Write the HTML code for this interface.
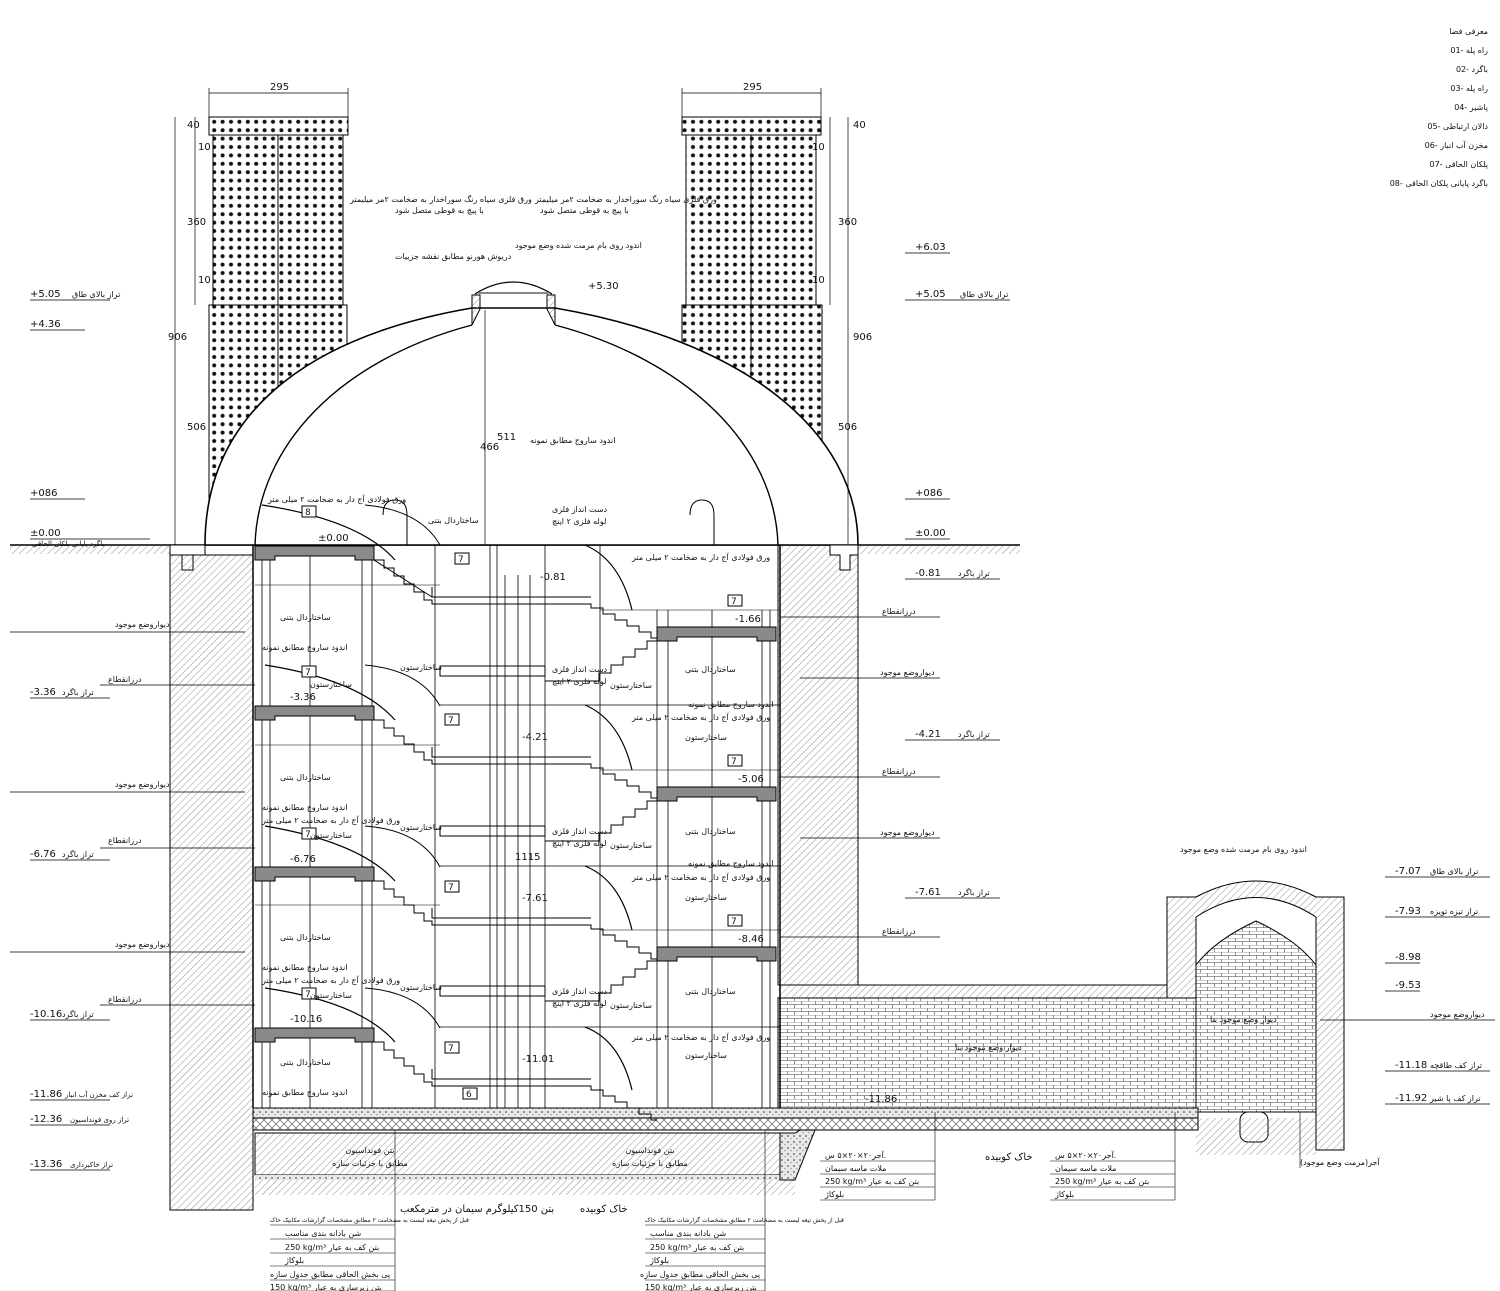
<!DOCTYPE html>
<html><head><meta charset="utf-8"><style>
html,body{margin:0;padding:0;background:#fff}
svg{display:block}
text{font-family:"DejaVu Sans","Liberation Sans",sans-serif;fill:#111}
.t{font-size:8px}
.e{font-size:10px;font-family:"Liberation Sans",sans-serif}
</style></head><body>
<svg width="1500" height="1291" viewBox="0 0 1500 1291" xmlns="http://www.w3.org/2000/svg">
<defs>
<pattern id="dots" width="8.4" height="8.4" patternUnits="userSpaceOnUse"><circle cx="4.2" cy="4.2" r="2" fill="#111"/></pattern>
<pattern id="hatch" width="5" height="5" patternUnits="userSpaceOnUse" patternTransform="rotate(45)"><line x1="0" y1="0" x2="0" y2="5" stroke="#777" stroke-width="0.8"/></pattern>
<pattern id="brick" width="14" height="7" patternUnits="userSpaceOnUse"><rect width="14" height="7" fill="#fff"/><path d="M0 0H14M0 3.5H14M3.5 0V3.5M10.5 3.5V7" stroke="#777" stroke-width="0.8" fill="none"/></pattern>
<pattern id="grav" width="6" height="6" patternUnits="userSpaceOnUse"><rect width="6" height="6" fill="#e8e8e8"/><circle cx="2" cy="2" r="1" fill="#777"/><circle cx="5" cy="4.5" r="0.8" fill="#999"/></pattern>
<pattern id="cross" width="8" height="8" patternUnits="userSpaceOnUse"><path d="M0 0L8 8M8 0L0 8" stroke="#666" stroke-width="0.7"/></pattern>
</defs>

<line x1="10" y1="545" x2="1020" y2="545" stroke="#000" stroke-width="1.5"/>
<rect x="10" y="546" width="160" height="8" fill="url(#hatch)"/>
<rect x="858" y="546" width="162" height="8" fill="url(#hatch)"/>

<g stroke="#000" stroke-width="1">
<rect x="209" y="117" width="139" height="18" fill="url(#dots)"/>
<rect x="213" y="135" width="130" height="170" fill="url(#dots)"/>
<rect x="209" y="305" width="138" height="240" fill="url(#dots)"/>
<line x1="278" y1="135" x2="278" y2="545"/>
<rect x="682" y="117" width="139" height="18" fill="url(#dots)"/>
<rect x="686" y="135" width="130" height="170" fill="url(#dots)"/>
<rect x="682" y="305" width="140" height="240" fill="url(#dots)"/>
<line x1="751" y1="135" x2="751" y2="545"/>
</g>

<!-- dome -->
<path d="M205,545 C205,430 285,340 472,308 L555,308 C742,340 858,430 858,545 Z" fill="#fff" stroke="#000" stroke-width="1.6"/>
<path d="M255,545 C258,445 340,360 472,325 M778,545 C775,445 687,360 555,325" fill="none" stroke="#000" stroke-width="1.4"/>
<path d="M472,325 L472,295 L480,295 L480,309 Z M555,325 L555,295 L547,295 L547,309 Z" fill="url(#hatch)" stroke="#000"/>
<path d="M475,294 Q513,270 552,294" fill="none" stroke="#000" stroke-width="1.3"/>
<line x1="478" y1="293" x2="549" y2="293" stroke="#888" stroke-width="2"/>

<path d="M170,545 H205 V555 H193 V570 H182 V555 H170 Z" fill="#fff" stroke="#000"/>
<rect x="170" y="555" width="83" height="655" fill="url(#hatch)" stroke="#000"/>
<rect x="778" y="545" width="80" height="440" fill="url(#hatch)" stroke="#000"/>
<path d="M858,545 H830 V555 H840 V570 H850 V555 H858Z" fill="#fff" stroke="#000"/>
<rect x="778" y="985" width="389" height="13" fill="url(#hatch)"/>
<path d="M858,545 V985 H1167 V897" fill="none" stroke="#000"/>
<path d="M1167,897 H1196 Q1256,865 1316,897 H1344 V1150 H1316 V1112 H1196 V998 H1167Z" fill="url(#hatch)" stroke="#000"/>
<path d="M1196,998 V917 Q1256,878 1316,917 V1112 H1196Z" fill="#fff" stroke="#000"/>
<path d="M1196,965 Q1215,940 1256,921 Q1297,940 1316,965 V1112 H1196Z" fill="url(#brick)" stroke="#000"/>
<rect x="778" y="998" width="418" height="114" fill="url(#brick)" stroke="#000"/>
<rect x="1240" y="1112" width="28" height="30" rx="8" fill="#fff" stroke="#000"/>
<rect x="1196" y="1118" width="120" height="25" fill="url(#hatch)"/>

<rect x="253" y="1108" width="945" height="10" fill="url(#grav)" stroke="#000"/>
<rect x="253" y="1118" width="945" height="12" fill="url(#cross)" stroke="#000"/>
<rect x="255" y="1133" width="525" height="42" fill="url(#hatch)" stroke="#000"/>
<rect x="255" y="1175" width="540" height="5" fill="url(#grav)"/>
<rect x="255" y="1180" width="540" height="15" fill="url(#hatch)"/>
<path d="M780,1133 L795,1133 L800,1130 L815,1130 L795,1180 L780,1180Z" fill="url(#grav)" stroke="#000"/>
<rect x="1196" y="1143" width="120" height="12" fill="url(#hatch)"/>
<text x="370" y="1153" text-anchor="middle" class="t" font-size="10">بتن فونداسیون</text>
<text x="370" y="1166" text-anchor="middle" class="t" font-size="10">مطابق با جزئیات سازه</text>
<text x="650" y="1153" text-anchor="middle" class="t" font-size="10">بتن فونداسیون</text>
<text x="650" y="1166" text-anchor="middle" class="t" font-size="10">مطابق با جزئیات سازه</text>

<g stroke="#000" stroke-width="0.8" fill="none">
<line x1="262" y1="545" x2="262" y2="1108"/><line x1="270" y1="545" x2="270" y2="1108"/>
<line x1="310" y1="545" x2="310" y2="1108"/><line x1="362" y1="545" x2="362" y2="1108"/>
<line x1="372" y1="545" x2="372" y2="1108"/><line x1="435" y1="545" x2="435" y2="1108"/>
<line x1="490" y1="545" x2="490" y2="1108"/><line x1="497" y1="545" x2="497" y2="1108"/>
<line x1="505" y1="575" x2="505" y2="1108"/><line x1="518" y1="575" x2="518" y2="1108"/>
<line x1="530" y1="575" x2="530" y2="1108"/><line x1="545" y1="545" x2="545" y2="1108"/>
<line x1="600" y1="545" x2="600" y2="1108"/><line x1="657" y1="610" x2="657" y2="1108"/>
<line x1="668" y1="610" x2="668" y2="1108"/><line x1="712" y1="610" x2="712" y2="1108"/>
<line x1="762" y1="610" x2="762" y2="1108"/><line x1="770" y1="610" x2="770" y2="1108"/>
<line x1="253" y1="545" x2="253" y2="1108" stroke-width="1.5"/>
<line x1="780" y1="545" x2="780" y2="1108" stroke-width="1.5"/>
</g>

<g stroke="#000" stroke-width="1" fill="#8a8a8a">
<path d="M255,546 H374 V560 H355 V556 H275 V560 H255Z"/>
<path d="M255,706 H374 V720 H355 V716 H275 V720 H255Z"/>
<path d="M255,867 H374 V881 H355 V877 H275 V881 H255Z"/>
<path d="M255,1028 H374 V1042 H355 V1038 H275 V1042 H255Z"/>
<path d="M657,627 H776 V641 H757 V637 H677 V641 H657Z"/>
<path d="M657,787 H776 V801 H757 V797 H677 V801 H657Z"/>
<path d="M657,947 H776 V961 H757 V957 H677 V961 H657Z"/>
</g>
<g stroke="#000" stroke-width="1" fill="none">
<path d="M374,560 h10 v8 h10 v8 h10 v8 h10 v8 h10 v8 h8 v4 H591 v4 h12 v6 h12 v6 h12 v6 h12 v6 h12 v6 h6"/>
<path d="M432,587 V597 H591 M374,560 L432,597"/>
<path d="M374,720 h10 v8 h10 v8 h10 v8 h10 v8 h10 v8 h8 v4 H591 v4 h12 v6 h12 v6 h12 v6 h12 v6 h12 v6 h6"/>
<path d="M432,747 V757 H591"/>
<path d="M374,881 h10 v8 h10 v8 h10 v8 h10 v8 h10 v8 h8 v4 H591 v4 h12 v6 h12 v6 h12 v6 h12 v6 h12 v6 h6"/>
<path d="M432,908 V918 H591"/>
<path d="M374,1042 h10 v8 h10 v8 h10 v8 h10 v8 h10 v8 h8 v4 H591 v4 h12 v6 h12 v6 h12 v6 h12 v6 h12 v6 h6"/>
<path d="M432,1069 V1079 H591"/>
<path d="M657,641 h-10 v8 h-12 v8 h-12 v8 h-12 v8 h-12 v8 H545 M440,666 H545 V676 H440Z"/>
<path d="M657,801 h-10 v8 h-12 v8 h-12 v8 h-12 v8 h-12 v8 H545 M440,826 H545 V836 H440Z"/>
<path d="M657,961 h-10 v8 h-12 v8 h-12 v8 h-12 v8 h-12 v8 H545 M440,986 H545 V996 H440Z"/>
<path d="M262,505 Q360,520 395,560 M265,665 Q360,680 395,720 M265,826 Q360,842 395,881 M265,988 Q360,1002 395,1042" stroke-width="1.2"/>
<path d="M365,505 Q420,510 440,545 M365,665 Q420,670 440,706 M365,826 Q420,830 440,867 M365,988 Q420,992 440,1028"/>
<path d="M585,545 Q620,560 632,610 M585,705 Q620,720 632,770 M585,866 Q620,880 632,930 M585,1027 Q620,1040 632,1090" stroke-width="1.2"/>
<path d="M440,545 H780 M440,705 H780 M440,866 H780 M440,1027 H780" stroke-width="0.8"/>
<path d="M255,585 H440 M600,610 H780 M255,745 H440 M600,770 H780 M255,905 H440 M600,930 H780" stroke-width="0.5"/>
<path d="M383,515 Q383,500 395,500 Q407,500 407,515 V545 M690,515 Q690,500 702,500 Q714,500 714,515 V545"/>
</g>
<g stroke="#000" fill="#fff">
<rect x="302" y="506" width="14" height="11"/><rect x="455" y="553" width="14" height="11"/>
<rect x="302" y="666" width="14" height="11"/><rect x="445" y="714" width="14" height="11"/>
<rect x="302" y="828" width="14" height="11"/><rect x="445" y="881" width="14" height="11"/>
<rect x="302" y="988" width="14" height="11"/><rect x="445" y="1042" width="14" height="11"/>
<rect x="463" y="1088" width="14" height="11"/>
<rect x="728" y="595" width="14" height="11"/><rect x="728" y="755" width="14" height="11"/>
<rect x="728" y="915" width="14" height="11"/>
</g>
<g font-size="9" font-family="Liberation Sans">
<text x="305" y="515">8</text><text x="458" y="562">7</text><text x="305" y="675">7</text><text x="448" y="723">7</text>
<text x="305" y="837">7</text><text x="448" y="890">7</text><text x="305" y="997">7</text><text x="448" y="1051">7</text><text x="466" y="1097">6</text>
<text x="731" y="604">7</text><text x="731" y="764">7</text><text x="731" y="924">7</text>
</g>

<g stroke="#000" stroke-width="0.7">
<line x1="175" y1="117" x2="175" y2="545"/><line x1="195" y1="117" x2="195" y2="305"/>
<line x1="848" y1="117" x2="848" y2="545"/><line x1="830" y1="117" x2="830" y2="305"/>
<line x1="209" y1="93" x2="348" y2="93"/><line x1="682" y1="93" x2="821" y2="93"/>
<line x1="209" y1="88" x2="209" y2="117"/><line x1="348" y1="88" x2="348" y2="117"/>
<line x1="682" y1="88" x2="682" y2="117"/><line x1="821" y1="88" x2="821" y2="117"/>
<line x1="485" y1="310" x2="485" y2="545"/>
</g>
<g class="e" font-size="7">
<text x="270" y="90">295</text><text x="743" y="90">295</text>
<text x="187" y="128">40</text><text x="187" y="225">360</text><text x="168" y="340">906</text><text x="187" y="430">506</text>
<text x="853" y="128">40</text><text x="838" y="225">360</text><text x="853" y="340">906</text><text x="838" y="430">506</text>
<text x="198" y="150">10</text><text x="198" y="283">10</text><text x="812" y="150">10</text><text x="812" y="283">10</text>
<text x="480" y="450">466</text><text x="497" y="440">511</text><text x="515" y="860">1115</text>
</g>

<g stroke="#000" stroke-width="0.8">
<path d="M30,300 H110 M30,330 H85 M30,499 H85 M30,539 H150 M30,698 H110 M30,860 H110 M30,1020 H110 M30,1100 H110 M30,1125 H110 M30,1170 H110"/>
<path d="M10,632 H245 M100,685 H255 M10,792 H245 M100,848 H255 M10,952 H245 M100,1005 H255"/>
<path d="M905,253 H950 M905,300 H1010 M905,499 H950 M905,539 H950 M905,579 H1000 M905,740 H1000 M905,898 H1000"/>
<path d="M780,617 H940 M800,678 H940 M780,777 H940 M800,838 H940 M780,937 H940"/>
<path d="M1385,877 H1490 M1385,917 H1490 M1385,963 H1420 M1385,991 H1420 M1320,1020 H1495 M1385,1071 H1490 M1385,1104 H1490"/>
</g>
<g class="e">
<text x="30" y="297">+5.05</text><text x="30" y="327">+4.36</text><text x="30" y="496">+086</text><text x="30" y="536">±0.00</text>
<text x="30" y="695">-3.36</text><text x="30" y="857">-6.76</text><text x="30" y="1017">-10.16</text>
<text x="30" y="1097">-11.86</text><text x="30" y="1122">-12.36</text><text x="30" y="1167">-13.36</text>
<text x="915" y="250">+6.03</text><text x="915" y="297">+5.05</text><text x="915" y="496">+086</text><text x="915" y="536">±0.00</text>
<text x="915" y="576">-0.81</text><text x="915" y="737">-4.21</text><text x="915" y="895">-7.61</text>
<text x="1395" y="874">-7.07</text><text x="1395" y="914">-7.93</text><text x="1395" y="960">-8.98</text><text x="1395" y="988">-9.53</text>
<text x="1395" y="1068">-11.18</text><text x="1395" y="1101">-11.92</text>
<text x="318" y="541">±0.00</text><text x="540" y="580">-0.81</text><text x="735" y="622">-1.66</text>
<text x="290" y="700">-3.36</text><text x="522" y="740">-4.21</text><text x="738" y="782">-5.06</text>
<text x="290" y="862">-6.76</text><text x="522" y="901">-7.61</text><text x="738" y="942">-8.46</text>
<text x="290" y="1022">-10.16</text><text x="522" y="1062">-11.01</text><text x="865" y="1102">-11.86</text>
<text x="588" y="289">+5.30</text>
</g>
<g class="t">
<text x="72" y="297" font-size="8">تراز بالای طاق</text>
<text x="32" y="546" font-size="7">باگرد پایانی بلکان الحاقی</text>
<text x="62" y="695">تراز باگرد</text><text x="62" y="857">تراز باگرد</text><text x="62" y="1017">تراز باگرد</text>
<text x="65" y="1097" font-size="7">تراز کف مخزن آب انبار</text><text x="70" y="1122" font-size="7">تراز روی فونداسیون</text><text x="70" y="1167" font-size="7">تراز خاکبرداری</text>
<text x="115" y="627">دیواروضع موجود</text><text x="115" y="787">دیواروضع موجود</text><text x="115" y="947">دیواروضع موجود</text>
<text x="108" y="682">درزانقطاع</text><text x="108" y="843">درزانقطاع</text><text x="108" y="1002">درزانقطاع</text>
<text x="960" y="297">تراز بالای طاق</text>
<text x="958" y="576">تراز باگرد</text><text x="958" y="737">تراز باگرد</text><text x="958" y="895">تراز باگرد</text>
<text x="882" y="614">درزانقطاع</text><text x="882" y="774">درزانقطاع</text><text x="882" y="934">درزانقطاع</text>
<text x="880" y="675">دیواروضع موجود</text><text x="880" y="835">دیواروضع موجود</text>
<text x="1430" y="874">تراز بالای طاق</text><text x="1430" y="914">تراز تیزه تویزه</text>
<text x="1430" y="1017">دیواروضع موجود</text><text x="1430" y="1068">تراز کف طاقچه</text><text x="1430" y="1101">تراز کف پا شیر</text>
<text x="1180" y="852">اندود روی بام مرمت شده وضع موجود</text>
<text x="350" y="202">ورق فلزی سیاه رنگ سوراخدار به ضخامت ۲مر میلیمتر</text>
<text x="395" y="213">با پیچ به قوطی متصل شود</text>
<text x="535" y="202">ورق فلزی سیاه رنگ سوراخدار به ضخامت ۲مر میلیمتر</text>
<text x="540" y="213">با پیچ به قوطی متصل شود</text>
<text x="515" y="248">اندود روی بام مرمت شده وضع موجود</text>
<text x="395" y="259">دریوش هورنو مطابق نقشه جزییات</text>
<text x="530" y="443">اندود ساروج مطابق نمونه</text>
<text x="268" y="502">ورق فولادی آج دار به ضخامت ۲ میلی متر</text>
<text x="428" y="523">ساختاردال بتنی</text><text x="552" y="512">دست انداز فلزی</text><text x="552" y="524">لوله فلزی ۲ اینچ</text>
<text x="632" y="560">ورق فولادی آج دار به ضخامت ۲ میلی متر</text>
<text x="280" y="620">ساختاردال بتنی</text><text x="262" y="650">اندود ساروج مطابق نمونه</text>
<text x="310" y="687">ساختارستون</text><text x="400" y="670">ساختارستون</text>
<text x="610" y="688">ساختارستون</text><text x="552" y="672">دست انداز فلزی</text><text x="552" y="684">لوله فلزی ۲ اینچ</text>
<text x="685" y="672">ساختاردال بتنی</text><text x="688" y="707">اندود ساروج مطابق نمونه</text>
<text x="632" y="720">ورق فولادی آج دار به ضخامت ۲ میلی متر</text><text x="685" y="740">ساختارستون</text>
<text x="280" y="780">ساختاردال بتنی</text><text x="262" y="810">اندود ساروج مطابق نمونه</text>
<text x="262" y="823">ورق فولادی آج دار به ضخامت ۲ میلی متر</text><text x="310" y="838">ساختارستون</text><text x="400" y="830">ساختارستون</text>
<text x="610" y="848">ساختارستون</text><text x="552" y="834">دست انداز فلزی</text><text x="552" y="846">لوله فلزی ۲ اینچ</text>
<text x="685" y="834">ساختاردال بتنی</text><text x="688" y="866">اندود ساروج مطابق نمونه</text>
<text x="632" y="880">ورق فولادی آج دار به ضخامت ۲ میلی متر</text><text x="685" y="900">ساختارستون</text>
<text x="280" y="940">ساختاردال بتنی</text><text x="262" y="970">اندود ساروج مطابق نمونه</text>
<text x="262" y="983">ورق فولادی آج دار به ضخامت ۲ میلی متر</text><text x="310" y="998">ساختارستون</text><text x="400" y="990">ساختارستون</text>
<text x="610" y="1008">ساختارستون</text><text x="552" y="994">دست انداز فلزی</text><text x="552" y="1006">لوله فلزی ۲ اینچ</text>
<text x="685" y="994">ساختاردال بتنی</text>
<text x="632" y="1040">ورق فولادی آج دار به ضخامت ۲ میلی متر</text><text x="685" y="1058">ساختارستون</text>
<text x="280" y="1065">ساختاردال بتنی</text><text x="262" y="1095">اندود ساروج مطابق نمونه</text>
<text x="955" y="1050">دیوار وضع موجود بنا</text><text x="1210" y="1022">دیوار وضع موجود بنا</text>
<text x="400" y="1212" font-size="10">بتن 150کیلوگرم سیمان در مترمکعب</text>
<text x="580" y="1212" font-size="10">خاک کوبیده</text><text x="985" y="1160" font-size="10">خاک کوبیده</text>
<text x="270" y="1222" font-size="6">قبل از پخش تیغه لیست به مضخامت ۲ مطابق مشخصات گزارشات مکانیک خاک</text>
<text x="285" y="1236">شن بادانه بندی مناسب</text><text x="285" y="1250">250 kg/m³ بتن کف به عیار</text>
<text x="285" y="1263">بلوکاژ</text><text x="270" y="1277">پی بخش الحاقی مطابق جدول سازه</text><text x="270" y="1290">150 kg/m³ بتن زیرسازی به عیار</text>
<text x="645" y="1222" font-size="6">قبل از پخش تیغه لیست به مضخامت ۲ مطابق مشخصات گزارشات مکانیک خاک</text>
<text x="650" y="1236">شن بادانه بندی مناسب</text><text x="650" y="1250">250 kg/m³ بتن کف به عیار</text>
<text x="650" y="1263">بلوکاژ</text><text x="640" y="1277">پی بخش الحاقی مطابق جدول سازه</text><text x="645" y="1290">150 kg/m³ بتن زیرسازی به عیار</text>
<text x="825" y="1158">آجر۲۰×۲۰×۵ س.</text><text x="825" y="1171">ملات ماسه سیمان</text><text x="825" y="1184">250 kg/m³ بتن کف به عیار</text><text x="825" y="1197">بلوکاژ</text>
<text x="1055" y="1158">آجر۲۰×۲۰×۵ س.</text><text x="1055" y="1171">ملات ماسه سیمان</text><text x="1055" y="1184">250 kg/m³ بتن کف به عیار</text><text x="1055" y="1197">بلوکاژ</text>
<text x="1300" y="1165">آجر(مرمت وضع موجود)</text>
</g>
<g stroke="#000" stroke-width="0.6">
<path d="M270,1225 H395 M270,1239 H395 M270,1253 H395 M270,1266 H395 M270,1280 H395 M270,1291 H395 M395,1130 V1291"/>
<path d="M645,1225 H765 M645,1239 H765 M645,1253 H765 M645,1266 H765 M645,1280 H765 M645,1291 H765 M765,1130 V1291"/>
<path d="M820,1161 H935 M820,1174 H935 M820,1187 H935 M820,1200 H935 M935,1112 V1200 M1050,1161 H1175 M1050,1174 H1175 M1050,1187 H1175 M1050,1200 H1175 M1175,1112 V1200 M1300,1168 V1112"/>
</g>

<g class="t" font-size="9" text-anchor="end">
<text x="1488" y="34">معرفی فضا</text>
<text x="1488" y="53">01-  راه پله</text><text x="1488" y="72">02-  باگرد</text><text x="1488" y="91">03-  راه پله</text>
<text x="1488" y="110">04-  پاشیر</text><text x="1488" y="129">05-  دالان ارتباطی</text><text x="1488" y="148">06-  مخزن آب انبار</text>
<text x="1488" y="167">07-  پلکان الحاقی</text><text x="1488" y="186">08-  باگرد پایانی پلکان الحاقی</text>
</g>
</svg>
</body></html>
